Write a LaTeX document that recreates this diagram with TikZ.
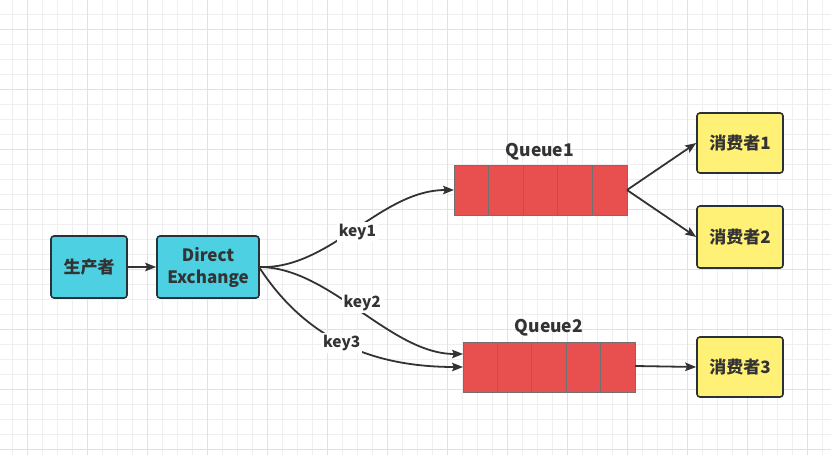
\documentclass[tikz,border=0pt]{standalone}
\usepackage{fontspec}
\setmainfont{Noto Sans CJK SC}
\usetikzlibrary{arrows.meta}
\definecolor{gridminor}{HTML}{EFEFEF}
\definecolor{gridmajor}{HTML}{E2E2E2}
\definecolor{cyanbox}{HTML}{4DD0E1}
\definecolor{yellowbox}{HTML}{FFF176}
\definecolor{redq}{HTML}{E85050}
\definecolor{qline}{HTML}{707070}
\definecolor{boxline}{HTML}{263238}
\definecolor{txt}{HTML}{333333}
\tikzset{
  box/.style={draw=boxline, line width=1.6pt, rounded corners=3pt, align=center,
    font=\bfseries\fontsize{17}{22}\selectfont, text=txt, inner sep=0pt},
  prod/.style={box, fill=cyanbox},
  cons/.style={box, fill=yellowbox},
  cell/.style={draw=qline, fill=redq, line width=0.8pt, minimum height=50pt, inner sep=0pt},
  qlabel/.style={font=\bfseries\fontsize{17.5}{20}\selectfont, text=txt},
  keylabel/.style={fill=white, font=\bfseries\fontsize{15.5}{18}\selectfont, text=txt, inner sep=2pt},
  conn/.style={draw=txt, line width=1.8pt, -{Stealth[length=11pt,width=8.5pt,inset=2pt]}},
}
\begin{document}
\begin{tikzpicture}[x=1pt,y=-1pt]
\useasboundingbox (0,0) rectangle (831,455);
\fill[white] (0,0) rectangle (831,455);
% grid
\foreach \x in {12.5,27.5,...,830} \draw[gridminor, line width=0.8pt] (\x,0) -- (\x,455);
\foreach \y in {14,29,...,455} \draw[gridminor, line width=0.8pt] (0,\y) -- (831,\y);
\foreach \x in {27.5,87.5,...,830} \draw[gridmajor, line width=0.9pt] (\x,0) -- (\x,455);
\foreach \y in {29,89,...,455} \draw[gridmajor, line width=0.9pt] (0,\y) -- (831,\y);

% producer and exchange
\node[prod, minimum width=76pt, minimum height=62pt] (p) at (89,267) {生产者};
\node[prod, minimum width=102pt, minimum height=62pt] (ex) at (208,267) {Direct\\Exchange};

% queue 1
\foreach \i in {0,...,4} \node[cell, minimum width=34.6pt] (qa\i) at ({454+17.3+34.6*\i},190) {};
\node[qlabel] (q1l) at (540,152) {Queue1};
\coordinate (q1in) at (454,190);
\coordinate (q1out) at (627,190);

% queue 2
\foreach \i in {0,...,4} \node[cell, minimum width=34.4pt] (qb\i) at ({463+17.2+34.4*\i},367) {};
\node[qlabel] (q2l) at (549,328) {Queue2};
\coordinate (q2ina) at (463,354);
\coordinate (q2inb) at (463,367);
\coordinate (q2out) at (635,366);

% consumers
\node[cons, minimum width=86pt, minimum height=60pt] (c1) at (740,143) {消费者1};
\node[cons, minimum width=86pt, minimum height=62pt] (c2) at (740,237) {消费者2};
\node[cons, minimum width=86pt, minimum height=60pt] (c3) at (740,367) {消费者3};

% connectors
\draw[conn] (p.east) -- (ex.west);
\coordinate (exo) at (259,267);
\draw[conn] (exo) .. controls (330,270) and (380,190) .. (q1in)
  node[keylabel, pos=0.5, xshift=2pt, yshift=-2pt] (k1) {key1};
\draw[conn] (exo) .. controls (330,267) and (390,354) .. (q2ina)
  node[keylabel, pos=0.5, xshift=2pt, yshift=7pt] (k2) {key2};
\draw[conn] (exo) .. controls (300,330) and (360,367) .. (q2inb)
  node[keylabel, pos=0.52] (k3) {key3};
\draw[conn] (q1out) -- (c1.west);
\draw[conn] (q1out) -- (c2.west);
\draw[conn] (q2out) -- (c3.west);
\end{tikzpicture}
\end{document}
